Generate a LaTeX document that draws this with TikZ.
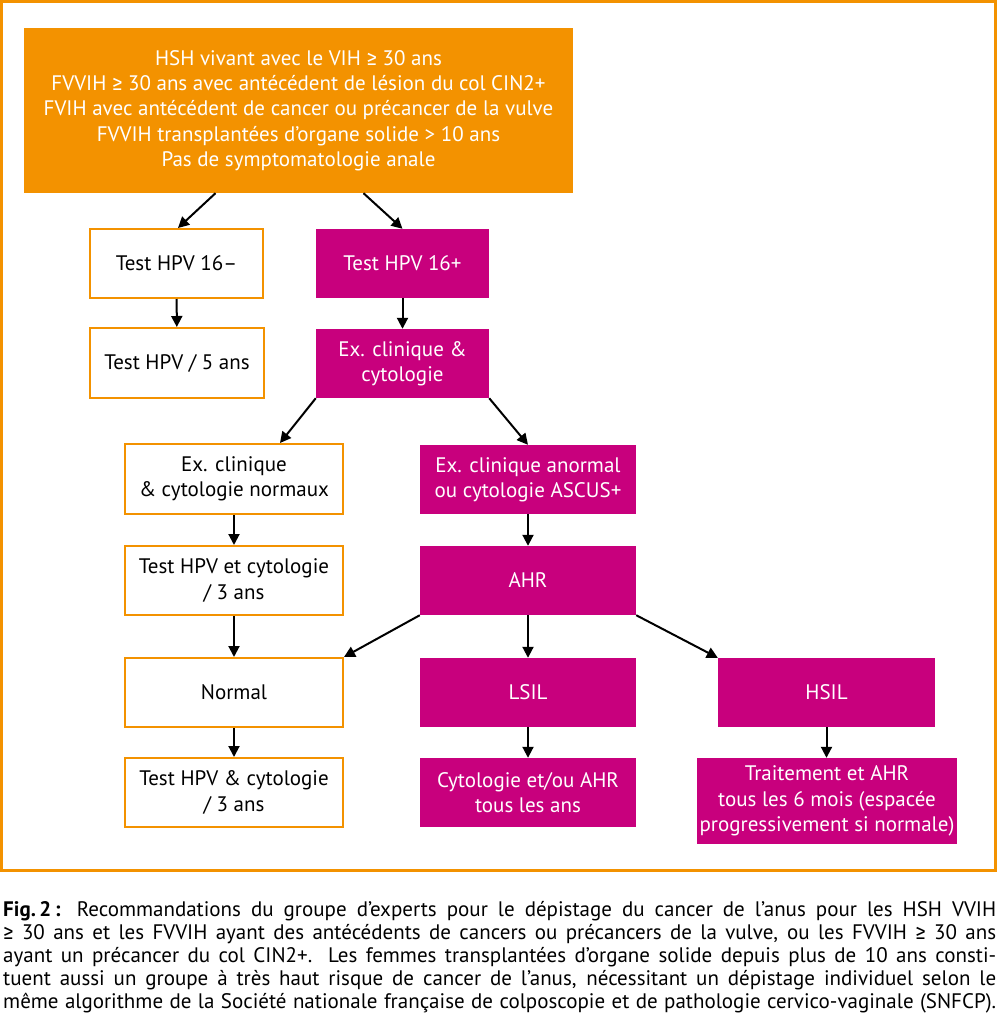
\documentclass[tikz,border=0pt]{standalone}
\usepackage{fontspec}
\setmainfont{PT Sans}
\newfontfamily\symfont{Fira Sans}
\usetikzlibrary{arrows.meta}
\definecolor{orangeF}{HTML}{F39200}
\definecolor{magentaF}{HTML}{C8007D}
\tikzset{
  base/.style={rectangle,inner sep=0pt,align=center,font=\fontsize{21}{25.3}\selectfont},
  whitebox/.style={base,draw=orangeF,line width=2pt,fill=white,text=black},
  pinkbox/.style={base,fill=magentaF,text=white},
  topbox/.style={base,fill=orangeF,text=white},
  arr/.style={-{Triangle[length=11pt,width=11pt]},line width=2pt},
  capline/.style={anchor=base west,inner sep=0pt,font=\fontsize{21}{23}\selectfont}
}
\newcommand{\capbox}[1]{\hbox to 993pt{#1}}
\newcommand{\gesym}{{\symfont ≥}}
\begin{document}
\begin{tikzpicture}[x=1pt,y=-1pt]
  \useasboundingbox (0,0) rectangle (998,1024);
  \draw[orangeF,line width=3pt] (1.5,1.5) rectangle (995,870);
  % top box
  \node[topbox,minimum width=549pt,minimum height=165pt] (top) at (298.5,110.5)
    {HSH vivant avec le VIH \gesym{} 30 ans\\
     FVVIH \gesym{} 30 ans avec antécédent de lésion du col CIN2+\\
     FVIH avec antécédent de cancer ou précancer de la vulve\\
     FVVIH transplantées d’organe solide > 10 ans\\
     Pas de symptomatologie anale};
  % left branch
  \node[whitebox,minimum width=173pt,minimum height=69pt] (neg) at (176.5,263.5) {Test HPV 16–};
  \node[whitebox,minimum width=174pt,minimum height=70pt] (five) at (177,363) {Test HPV / 5 ans};
  % right branch
  \node[pinkbox,minimum width=173pt,minimum height=69pt] (pos) at (402.5,263.5) {Test HPV 16+};
  \node[pinkbox,minimum width=173pt,minimum height=69pt] (excl) at (402.5,363.5) {Ex. clinique \&\\cytologie};
  \node[whitebox,minimum width=218pt,minimum height=70pt] (normaux) at (234,479) {Ex. clinique\\\& cytologie normaux};
  \node[pinkbox,minimum width=216pt,minimum height=69pt] (anormal) at (528,479.5) {Ex. clinique anormal\\ou cytologie ASCUS+};
  \node[whitebox,minimum width=218pt,minimum height=69pt] (test3) at (234,580.5) {Test HPV et cytologie\\/ 3 ans};
  \node[pinkbox,minimum width=216pt,minimum height=69pt] (ahr) at (528,580.5) {AHR};
  \node[whitebox,minimum width=218pt,minimum height=69pt] (normal) at (234,692.5) {Normal};
  \node[pinkbox,minimum width=216pt,minimum height=69pt] (lsil) at (528,692.5) {LSIL};
  \node[pinkbox,minimum width=217pt,minimum height=69pt] (hsil) at (826.5,692.5) {HSIL};
  \node[whitebox,minimum width=218pt,minimum height=69pt] (testcyto) at (234,792.5) {Test HPV \& cytologie\\/ 3 ans};
  \node[pinkbox,minimum width=216pt,minimum height=69pt] (cyto) at (528,792.5) {Cytologie et/ou AHR\\tous les ans};
  \node[pinkbox,minimum width=260pt,minimum height=86pt] (trait) at (827,801)
    {Traitement et AHR\\tous les 6 mois (espacée\\progressivement si normale)};
  % connectors
  \draw[arr] ([xshift=-83pt]top.south) -- ([xshift=1.5pt]neg.north);
  \draw[arr] ([xshift=65pt]top.south) -- (pos.north);
  \draw[arr] (neg) -- (five);
  \draw[arr] (pos) -- (excl);
  \draw[arr] (excl.south west) -- ([xshift=46pt]normaux.north);
  \draw[arr] (excl.south east) -- (anormal.north);
  \draw[arr] (normaux) -- (test3);
  \draw[arr] (anormal) -- (ahr);
  \draw[arr] (test3) -- (normal);
  \draw[arr] (ahr.south west) -- (normal.north east);
  \draw[arr] (ahr) -- (lsil);
  \draw[arr] (ahr.south east) -- (hsil.north west);
  \draw[arr] (normal) -- (testcyto);
  \draw[arr] (lsil) -- (cyto);
  \draw[arr] (hsil.south) -- ([xshift=-0.5pt]trait.north);
  % caption, one node per line
  \node[capline] (cap1) at (3,916) {\capbox{\textbf{Fig.\,2\,:} Recommandations du groupe d’experts pour le dépistage du cancer de l’anus pour les HSH VVIH}};
  \node[capline] (cap2) at (3,939) {\capbox{\gesym{} 30 ans et les FVVIH ayant des antécédents de cancers ou précancers de la vulve, ou les FVVIH \gesym{} 30 ans}};
  \node[capline] (cap3) at (3,962) {\capbox{ayant un précancer du col CIN2+. Les femmes transplantées d’organe solide depuis plus de 10 ans consti-}};
  \node[capline] (cap4) at (3,985) {\capbox{tuent aussi un groupe à très haut risque de cancer de l’anus, nécessitant un dépistage individuel selon le}};
  \node[capline] (cap5) at (3,1008) {\capbox{même algorithme de la Société nationale française de colposcopie et de pathologie cervico-vaginale (SNFCP).}};
\end{tikzpicture}
\end{document}
